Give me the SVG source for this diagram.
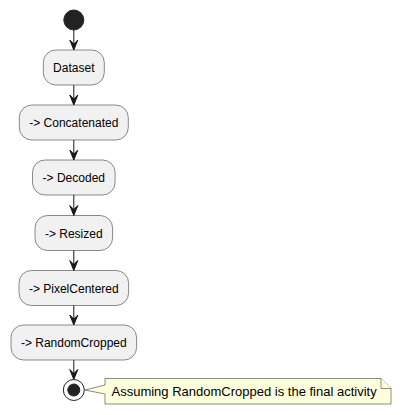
<svg xmlns="http://www.w3.org/2000/svg" width="402" height="415" viewBox="0 0 402 415">
<defs>
<style>
.act{fill:#F1F1F1;stroke:#181818;stroke-width:0.5}
.lbl{font-family:"Liberation Sans",Arial,sans-serif;font-size:12px;fill:#000000;text-anchor:middle}
.ln{stroke:#181818;stroke-width:1;fill:none}
.ah{fill:#181818;stroke:#181818;stroke-width:1}
.note{fill:#FEFFDD;stroke:#181818;stroke-width:0.5}
.ntxt{font-family:"Liberation Sans",Arial,sans-serif;font-size:13px;fill:#000000}
</style>
</defs>
<rect width="402" height="415" fill="#FFFFFF"/>
<g id="start"><circle cx="73.8" cy="20" r="10" fill="#222222" stroke="#222222" stroke-width="1"/></g>
<g id="dataset"><rect class="act" x="43.3" y="50" width="61" height="35" rx="12.5" ry="12.5"/><text class="lbl" x="73.8" y="72">Dataset</text></g>
<g id="concatenated"><rect class="act" x="19.3" y="105" width="109" height="35" rx="12.5" ry="12.5"/><text class="lbl" x="73.8" y="127">-&gt; Concatenated</text></g>
<g id="decoded"><rect class="act" x="32.5" y="160" width="82.6" height="35" rx="12.5" ry="12.5"/><text class="lbl" x="73.8" y="182">-&gt; Decoded</text></g>
<g id="resized"><rect class="act" x="35" y="215.5" width="77.6" height="35" rx="12.5" ry="12.5"/><text class="lbl" x="73.8" y="237.5">-&gt; Resized</text></g>
<g id="pixelcentered"><rect class="act" x="19" y="270.5" width="109.6" height="35" rx="12.5" ry="12.5"/><text class="lbl" x="73.8" y="292.5">-&gt; PixelCentered</text></g>
<g id="randomcropped"><rect class="act" x="11" y="325" width="125.6" height="35" rx="12.5" ry="12.5"/><text class="lbl" x="73.8" y="347">-&gt; RandomCropped</text></g>
<g id="end"><circle cx="73.8" cy="390" r="10.5" fill="none" stroke="#222222" stroke-width="1"/><circle cx="73.8" cy="390" r="6" fill="#222222" stroke="#222222" stroke-width="1"/></g>
<g id="connectors">
<line class="ln" x1="73.8" y1="30" x2="73.8" y2="48"/>
<polygon class="ah" points="69.8,40 73.8,50 77.8,40 73.8,44"/>
<line class="ln" x1="73.8" y1="85" x2="73.8" y2="103"/>
<polygon class="ah" points="69.8,95 73.8,105 77.8,95 73.8,99"/>
<line class="ln" x1="73.8" y1="140" x2="73.8" y2="158"/>
<polygon class="ah" points="69.8,150 73.8,160 77.8,150 73.8,154"/>
<line class="ln" x1="73.8" y1="195" x2="73.8" y2="213.5"/>
<polygon class="ah" points="69.8,205.5 73.8,215.5 77.8,205.5 73.8,209.5"/>
<line class="ln" x1="73.8" y1="250.5" x2="73.8" y2="268.5"/>
<polygon class="ah" points="69.8,260.5 73.8,270.5 77.8,260.5 73.8,264.5"/>
<line class="ln" x1="73.8" y1="305.5" x2="73.8" y2="323"/>
<polygon class="ah" points="69.8,315 73.8,325 77.8,315 73.8,319"/>
<line class="ln" x1="73.8" y1="360" x2="73.8" y2="377.5"/>
<polygon class="ah" points="69.8,369.5 73.8,379.5 77.8,369.5 73.8,373.5"/>
</g>
<g id="note">
<path class="note" d="M105,378.5 L381,378.5 L391,388.5 L391,404 L105,404 L105,394 L85,390 L105,385 Z"/>
<path class="note" d="M381,378.5 L381,388.5 L391,388.5"/>
<text class="ntxt" x="111.5" y="396">Assuming RandomCropped is the final activity</text>
</g>
</svg>
